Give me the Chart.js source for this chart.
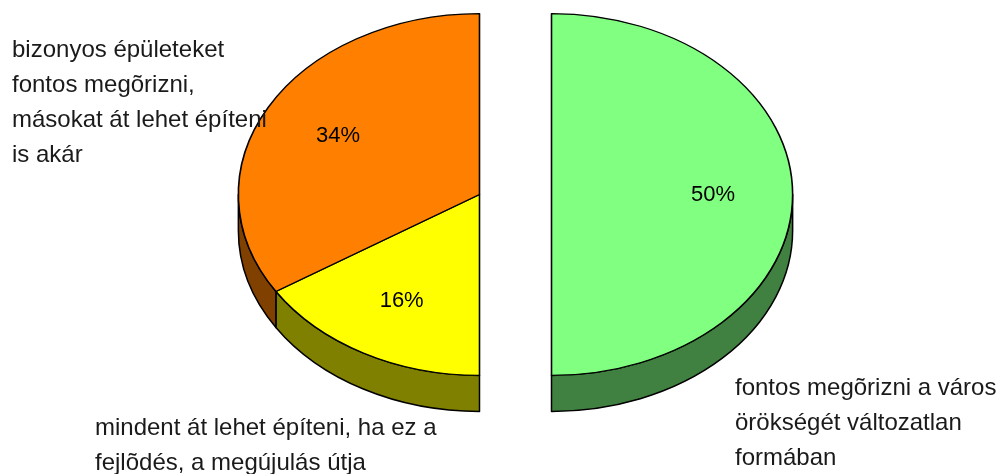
<!DOCTYPE html>
<html>
<head>
<meta charset="UTF-8">
<title>Pie 3D</title>
<script src="https://cdn.jsdelivr.net/npm/chart.js@4.4.1/dist/chart.umd.min.js"></script>
<style>
  body { margin: 0; background: #fff; }
  #container { width: 1002px; height: 474px; position: relative; }
</style>
</head>
<body>
<div id="container">
  <canvas id="canvas"></canvas>
</div>
<script>
// categories (clockwise from the top)
const categories = [
  ['fontos megõrizni a város', 'örökségét változatlan', 'formában'],
  ['mindent át lehet építeni, ha ez a', 'fejlõdés, a megújulás útja'],
  ['bizonyos épületeket', 'fontos megõrizni,', 'másokat át lehet építeni', 'is akár']
];
const shares = [50, 16, 34];
const sliceColors = ['#80FF80', '#FFFF00', '#FF8000'];

// where the category texts sit (first baseline)
const labelAnchors = [[735, 395], [95, 435], [12, 57]];

const STRETCH_X = 1.333;   // ellipse: wider than tall
const STRETCH_Y = 1.0;
const DEPTH = 36;          // thickness of the pie
const GAP = 36;            // how far each half is pulled out
const FONT = '"Liberation Sans", Arial, sans-serif';

function darker(hex) {
  const n = parseInt(hex.slice(1), 16);
  const r = (n >> 16) & 255, g = (n >> 8) & 255, b = n & 255;
  return 'rgb(' + Math.round(r / 2) + ',' + Math.round(g / 2) + ',' + Math.round(b / 2) + ')';
}

function shiftOf(arc) {
  const mid = (arc.startAngle + arc.endAngle) / 2;
  return Math.cos(mid) >= 0 ? GAP : -GAP;
}

const tilt3d = {
  id: 'tilt3d',
  beforeDatasetsDraw(chart) {
    const ctx = chart.ctx;
    const arcs = chart.getDatasetMeta(0).data;
    // sides first (only the front half can be seen)
    arcs.forEach((arc, i) => {
      const cx = arc.x + shiftOf(arc), cy = arc.y;
      const rx = arc.outerRadius * STRETCH_X, ry = arc.outerRadius * STRETCH_Y;
      [-2 * Math.PI, 0, 2 * Math.PI].forEach(k => {
        const lo = Math.max(arc.startAngle + k, 0);
        const hi = Math.min(arc.endAngle + k, Math.PI);
        if (hi <= lo) return;
        ctx.save();
        ctx.beginPath();
        ctx.ellipse(cx, cy, rx, ry, 0, lo, hi);
        ctx.ellipse(cx, cy + DEPTH, rx, ry, 0, hi, lo, true);
        ctx.closePath();
        ctx.fillStyle = darker(sliceColors[i]);
        ctx.fill();
        ctx.lineWidth = 1.5;
        ctx.strokeStyle = '#000';
        ctx.lineJoin = 'round';
        ctx.stroke();
        ctx.restore();
      });
    });
    // then the top faces, squeezed into an ellipse
    arcs.forEach(arc => {
      ctx.save();
      ctx.translate(arc.x + shiftOf(arc), arc.y);
      ctx.scale(STRETCH_X, STRETCH_Y);
      ctx.translate(-arc.x, -arc.y);
      arc.draw(ctx);
      ctx.restore();
    });
    return false;
  },
  afterDraw(chart) {
    const ctx = chart.ctx;
    const arcs = chart.getDatasetMeta(0).data;
    ctx.save();
    ctx.fillStyle = '#000';
    ctx.font = '22px ' + FONT;
    ctx.textAlign = 'center';
    ctx.textBaseline = 'middle';
    arcs.forEach((arc, i) => {
      const mid = (arc.startAngle + arc.endAngle) / 2;
      const r = arc.outerRadius * 0.67;
      const x = arc.x + shiftOf(arc) + Math.cos(mid) * r * STRETCH_X;
      const y = arc.y + Math.sin(mid) * r * STRETCH_Y;
      ctx.fillText(shares[i] + '%', x, y);
    });
    // category texts
    ctx.fillStyle = '#1a1a1a';
    ctx.font = '24px ' + FONT;
    ctx.textAlign = 'left';
    ctx.textBaseline = 'alphabetic';
    categories.forEach((lines, i) => {
      lines.forEach((line, j) => {
        ctx.fillText(line, labelAnchors[i][0], labelAnchors[i][1] + j * 35);
      });
    });
    ctx.restore();
  }
};

new Chart(document.getElementById('canvas'), {
  type: 'pie',
  data: {
    labels: categories,
    datasets: [{
      data: shares,
      backgroundColor: sliceColors,
      borderColor: '#000',
      borderWidth: 1.2,
      borderJoinStyle: 'round'
    }]
  },
  options: {
    responsive: true,
    maintainAspectRatio: false,
    animation: false,
    layout: { padding: { left: 334, right: 305, top: 13, bottom: 98 } },
    plugins: {
      legend: { display: false },
      tooltip: { enabled: false }
    }
  },
  plugins: [tilt3d]
});
</script>
</body>
</html>
